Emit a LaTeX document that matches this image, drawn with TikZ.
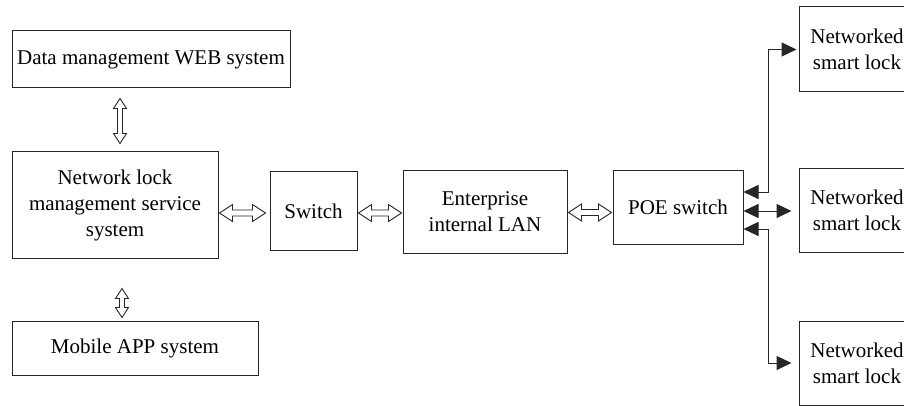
\documentclass[tikz,border=0pt]{standalone}
\usepackage{fontspec}
\setmainfont{Liberation Serif}
\usetikzlibrary{arrows.meta,calc}

\tikzset{
  blk/.style={draw=black!85, line width=1pt, inner sep=0pt, align=center,
              font=\fontsize{21}{26}\selectfont},
  % hollow double-headed block arrow, horizontal
  harrow/.style={draw=black!85, line width=0.9pt, fill=white, to path={
    let \p1=(\tikztostart), \p2=(\tikztotarget) in
    (\x1,\y1) -- (\x1+13pt,\y1+8.5pt) -- (\x1+13pt,\y1+3pt) -- (\x2-13pt,\y1+3pt)
    -- (\x2-13pt,\y1+8.5pt) -- (\x2,\y1) -- (\x2-13pt,\y1-8.5pt) -- (\x2-13pt,\y1-3pt)
    -- (\x1+13pt,\y1-3pt) -- (\x1+13pt,\y1-8.5pt) -- cycle}},
  % hollow double-headed block arrow, vertical
  varrow/.style={draw=black!85, line width=0.9pt, fill=white, to path={
    let \p1=(\tikztostart), \p2=(\tikztotarget) in
    (\x1,\y1) -- (\x1+6.5pt,\y1-10pt) -- (\x1+2.5pt,\y1-10pt) -- (\x1+2.5pt,\y2+10pt)
    -- (\x1+6.5pt,\y2+10pt) -- (\x1,\y2) -- (\x1-6.5pt,\y2+10pt) -- (\x1-2.5pt,\y2+10pt)
    -- (\x1-2.5pt,\y1-10pt) -- (\x1-6.5pt,\y1-10pt) -- cycle}},
  link/.style={draw=black!85, line width=1pt,
               {Triangle[length=15pt,width=14pt]}-{Triangle[length=15pt,width=14pt]}}
}

\begin{document}
\begin{tikzpicture}[x=1pt,y=-1pt]
\clip (0,0) rectangle (904,406);

% system boxes
\node[blk, minimum width=278, minimum height=57] (web) at (151,59.5) {Data management WEB system};
\node[blk, minimum width=206, minimum height=106] (nls) at (115,205) {Network lock\\management service\\system};
\node[blk, minimum width=246, minimum height=54] (mob) at (135,348) {Mobile APP system};
\node[blk, minimum width=87, minimum height=78] (sw) at (313.5,211) {Switch};
\node[blk, minimum width=164, minimum height=82] (lan) at (485,212) {Enterprise\\internal LAN};
\node[blk, minimum width=130, minimum height=73] (poe) at (678,207.5) {POE switch};

% smart locks
\node[blk, minimum width=116, minimum height=85] (lock1) at (857,49.5) {Networked\\smart lock};
\node[blk, minimum width=116, minimum height=83] (lock2) at (857,210.5) {Networked\\smart lock};
\node[blk, minimum width=116, minimum height=84] (lock3) at (857,363) {Networked\\smart lock};

% hollow links between the management side and the LAN
\draw[varrow] ([shift={(-31,10)}]web.south) to ([shift={(5,-8)}]nls.north);
\draw[varrow] ([shift={(7,30)}]nls.south) to ([shift={(-13,-3)}]mob.north);
\draw[harrow] ([shift={(1,8)}]nls.east) to ([shift={(-4,2)}]sw.west);
\draw[harrow] ([shift={(1,2)}]sw.east) to ([shift={(-1,1)}]lan.west);
\draw[harrow] ([shift={(1,0.5)}]lan.east) to ([shift={(-1,5)}]poe.west);

% POE switch to the locks
\coordinate (bus) at (768,0);
\draw[link] ([shift={(0,-15.5)}]poe.east) -| (bus |- lock1.west) -- ([shift={(-2,0)}]lock1.west);
\draw[link] ([shift={(0,3.5)}]poe.east) -- ([shift={(-7,0.5)}]lock2.west);
\draw[link] ([shift={(0,21.5)}]poe.east) -| (bus |- lock3.west) -- ([shift={(-7,0)}]lock3.west);
\end{tikzpicture}
\end{document}
